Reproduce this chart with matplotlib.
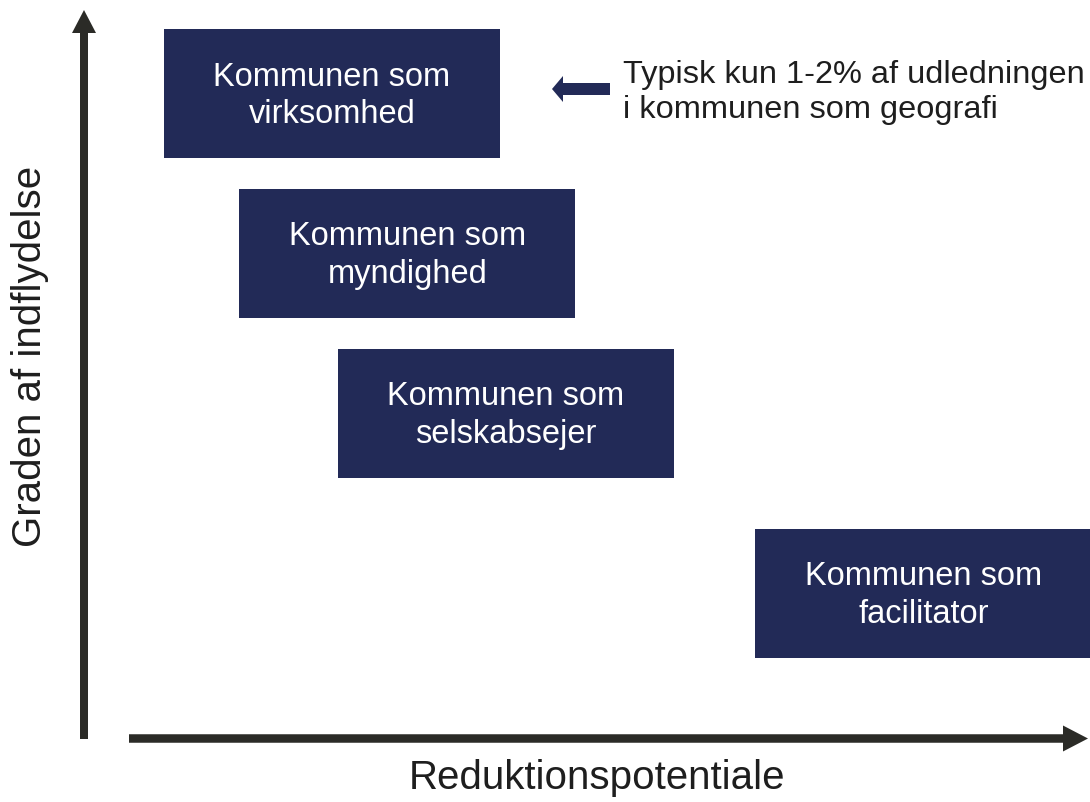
import matplotlib
matplotlib.use("Agg")
import matplotlib.pyplot as plt
from matplotlib.patches import Rectangle, FancyArrow

plt.rcParams['font.family'] = ['Liberation Sans', 'DejaVu Sans']

# ---- data (abstract 0-10 scales) ----
categories = ["Kommunen som\nvirksomhed",
              "Kommunen som\nmyndighed",
              "Kommunen som\nselskabsejer",
              "Kommunen som\nfacilitator"]
reduktion = [2.47, 3.22, 4.20, 8.36]      # box centre on x (reduction potential)
indflydelse = [8.85, 6.66, 4.47, 2.00]    # box centre on y (degree of influence)
note_text = "Typisk kun 1-2% af udledningen\ni kommunen som geografi"
xlabel = "Reduktionspotentiale"
ylabel = "Graden af indflydelse"

# ---- styles / layout ----
BOX_W, BOX_H = 3.35, 1.77
TEXT_DY = -0.03
NAVY = "#222A57"
DARK = "#2B2B27"

W, H = 1090, 802
fig = plt.figure(figsize=(W / 100, H / 100), dpi=100)

# data axes: origin at pixel (84, 739); 100.4 px per x unit, 72.9 px per y unit
ax = fig.add_axes([0, 0, 1, 1])
ax.set_xlim((0 - 84) / 100.4, (W - 84) / 100.4)
ax.set_ylim((739 - H) / 72.9, (739 - 0) / 72.9)
ax.axis("off")

for lab, xc, yc in zip(categories, reduktion, indflydelse):
    ax.add_patch(Rectangle((xc - BOX_W / 2, yc - BOX_H / 2), BOX_W, BOX_H,
                           facecolor=NAVY, edgecolor="none", clip_on=False, zorder=2))
    ax.text(xc, yc + TEXT_DY, lab, ha="center", va="center", color="white",
            fontsize=23.5, linespacing=1.27, zorder=3)

# decoration axes in pixel coordinates
deco = fig.add_axes([0, 0, 1, 1])
deco.set_xlim(0, W)
deco.set_ylim(H, 0)
deco.axis("off")
deco.patch.set_alpha(0)

# y axis arrow
deco.add_patch(FancyArrow(84, 739, 0, -729, width=8, head_width=24, head_length=23,
                          length_includes_head=True, color=DARK, lw=0))
# x axis arrow
deco.add_patch(FancyArrow(129, 738.5, 959, 0, width=8.5, head_width=26, head_length=25,
                          length_includes_head=True, color=DARK, lw=0))
# note arrow
deco.add_patch(FancyArrow(610, 89, -58, 0, width=12, head_width=26, head_length=11,
                          length_includes_head=True, color=NAVY, lw=0))

deco.text(623, 92.5, note_text, ha="left", va="center", color="#1E1E1E",
          fontsize=23.4, linespacing=1.24)

deco.text(597, 778, xlabel, ha="center", va="center", color="#1E1E1E", fontsize=29)
deco.text(30, 356, ylabel, ha="center", va="center", rotation=90,
          color="#1E1E1E", fontsize=29)

fig.savefig("out.png", dpi=100)
